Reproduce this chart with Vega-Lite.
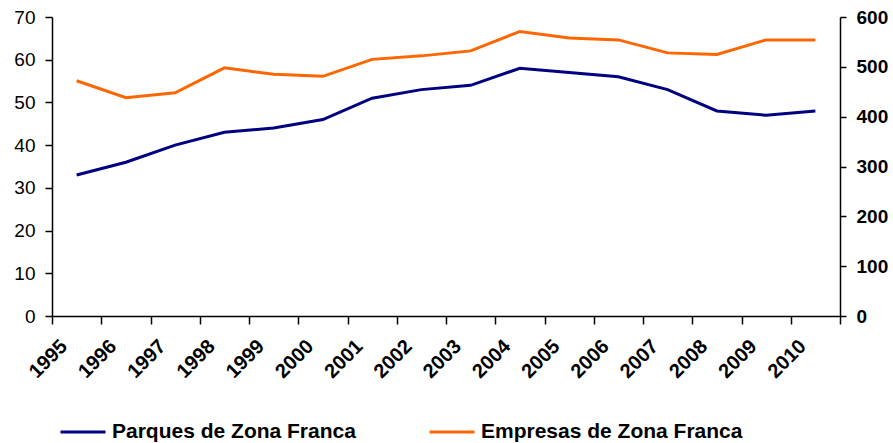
{
  "$schema": "https://vega.github.io/schema/vega-lite/v6.json",
  "width": 788,
  "height": 299,
  "autosize": {"type": "none"},
  "padding": {"left": 52, "top": 17, "right": 53, "bottom": 127},
  "background": "white",
  "config": {
    "view": {"stroke": null},
    "font": "Liberation Sans"
  },
  "data": {
    "values": [
      {"year": "1995", "serie": "Parques de Zona Franca", "value": 33},
      {"year": "1996", "serie": "Parques de Zona Franca", "value": 36},
      {"year": "1997", "serie": "Parques de Zona Franca", "value": 40},
      {"year": "1998", "serie": "Parques de Zona Franca", "value": 43},
      {"year": "1999", "serie": "Parques de Zona Franca", "value": 44},
      {"year": "2000", "serie": "Parques de Zona Franca", "value": 46},
      {"year": "2001", "serie": "Parques de Zona Franca", "value": 51},
      {"year": "2002", "serie": "Parques de Zona Franca", "value": 53},
      {"year": "2003", "serie": "Parques de Zona Franca", "value": 54},
      {"year": "2004", "serie": "Parques de Zona Franca", "value": 58},
      {"year": "2005", "serie": "Parques de Zona Franca", "value": 57},
      {"year": "2006", "serie": "Parques de Zona Franca", "value": 56},
      {"year": "2007", "serie": "Parques de Zona Franca", "value": 53},
      {"year": "2008", "serie": "Parques de Zona Franca", "value": 48},
      {"year": "2009", "serie": "Parques de Zona Franca", "value": 47},
      {"year": "2010", "serie": "Parques de Zona Franca", "value": 48},
      {"year": "1995", "serie": "Empresas de Zona Franca", "value": 472},
      {"year": "1996", "serie": "Empresas de Zona Franca", "value": 438},
      {"year": "1997", "serie": "Empresas de Zona Franca", "value": 448},
      {"year": "1998", "serie": "Empresas de Zona Franca", "value": 498},
      {"year": "1999", "serie": "Empresas de Zona Franca", "value": 485},
      {"year": "2000", "serie": "Empresas de Zona Franca", "value": 481},
      {"year": "2001", "serie": "Empresas de Zona Franca", "value": 515},
      {"year": "2002", "serie": "Empresas de Zona Franca", "value": 522},
      {"year": "2003", "serie": "Empresas de Zona Franca", "value": 532},
      {"year": "2004", "serie": "Empresas de Zona Franca", "value": 571},
      {"year": "2005", "serie": "Empresas de Zona Franca", "value": 558},
      {"year": "2006", "serie": "Empresas de Zona Franca", "value": 554},
      {"year": "2007", "serie": "Empresas de Zona Franca", "value": 528},
      {"year": "2008", "serie": "Empresas de Zona Franca", "value": 525},
      {"year": "2009", "serie": "Empresas de Zona Franca", "value": 554},
      {"year": "2010", "serie": "Empresas de Zona Franca", "value": 554}
    ]
  },
  "encoding": {
    "x": {
      "field": "year",
      "type": "ordinal",
      "bandPosition": 0.5,
      "scale": {"type": "band", "paddingInner": 0, "paddingOuter": 0},
      "axis": {
        "title": null,
        "domainColor": "black",
        "domainWidth": 1.5,
        "tickColor": "black",
        "tickWidth": 1.5,
        "tickSize": 8,
        "tickBand": "extent",
        "labelAngle": -45,
        "labelAlign": "right",
        "labelBaseline": "middle",
        "labelOffset": -13,
        "labelPadding": 19,
        "labelFont": "Liberation Sans",
        "labelFontSize": 20,
        "labelFontWeight": "bold",
        "labelColor": "black",
        "labelOverlap": false,
        "grid": false
      }
    },
    "color": {
      "field": "serie",
      "type": "nominal",
      "scale": {
        "domain": ["Parques de Zona Franca", "Empresas de Zona Franca"],
        "range": ["#000080", "#FF6600"]
      },
      "legend": {
        "title": null,
        "orient": "none",
        "direction": "horizontal",
        "legendX": 7,
        "legendY": 391,
        "padding": 0,
        "symbolType": "stroke",
        "symbolSize": 2025,
        "symbolStrokeWidth": 3,
        "labelFont": "Liberation Sans",
        "labelFontSize": 21,
        "labelFontWeight": "bold",
        "labelColor": "black",
        "labelOffset": 5,
        "labelLimit": 400,
        "columnPadding": 67
      }
    }
  },
  "layer": [
    {
      "transform": [{"filter": "datum.serie === 'Parques de Zona Franca'"}],
      "mark": {"type": "line", "strokeWidth": 3},
      "encoding": {
        "y": {
          "field": "value",
          "type": "quantitative",
          "scale": {"domain": [0, 70], "nice": false},
          "axis": {
            "orient": "left",
            "title": null,
            "values": [0, 10, 20, 30, 40, 50, 60, 70],
            "grid": false,
            "domainColor": "black",
            "domainWidth": 1.5,
            "tickColor": "black",
            "tickWidth": 1.5,
            "tickSize": 7,
            "labelPadding": 10,
            "labelFont": "Liberation Sans",
            "labelFontSize": 19,
            "labelColor": "black"
          }
        }
      }
    },
    {
      "transform": [{"filter": "datum.serie === 'Empresas de Zona Franca'"}],
      "mark": {"type": "line", "strokeWidth": 3},
      "encoding": {
        "y": {
          "field": "value",
          "type": "quantitative",
          "scale": {"domain": [0, 600], "nice": false},
          "axis": {
            "orient": "right",
            "title": null,
            "values": [0, 100, 200, 300, 400, 500, 600],
            "grid": false,
            "domainColor": "black",
            "domainWidth": 1.5,
            "tickColor": "black",
            "tickWidth": 1.5,
            "tickSize": 6,
            "labelPadding": 10,
            "labelFont": "Liberation Sans",
            "labelFontSize": 19,
            "labelFontWeight": "bold",
            "labelColor": "black"
          }
        }
      }
    }
  ],
  "resolve": {"scale": {"y": "independent"}}
}
